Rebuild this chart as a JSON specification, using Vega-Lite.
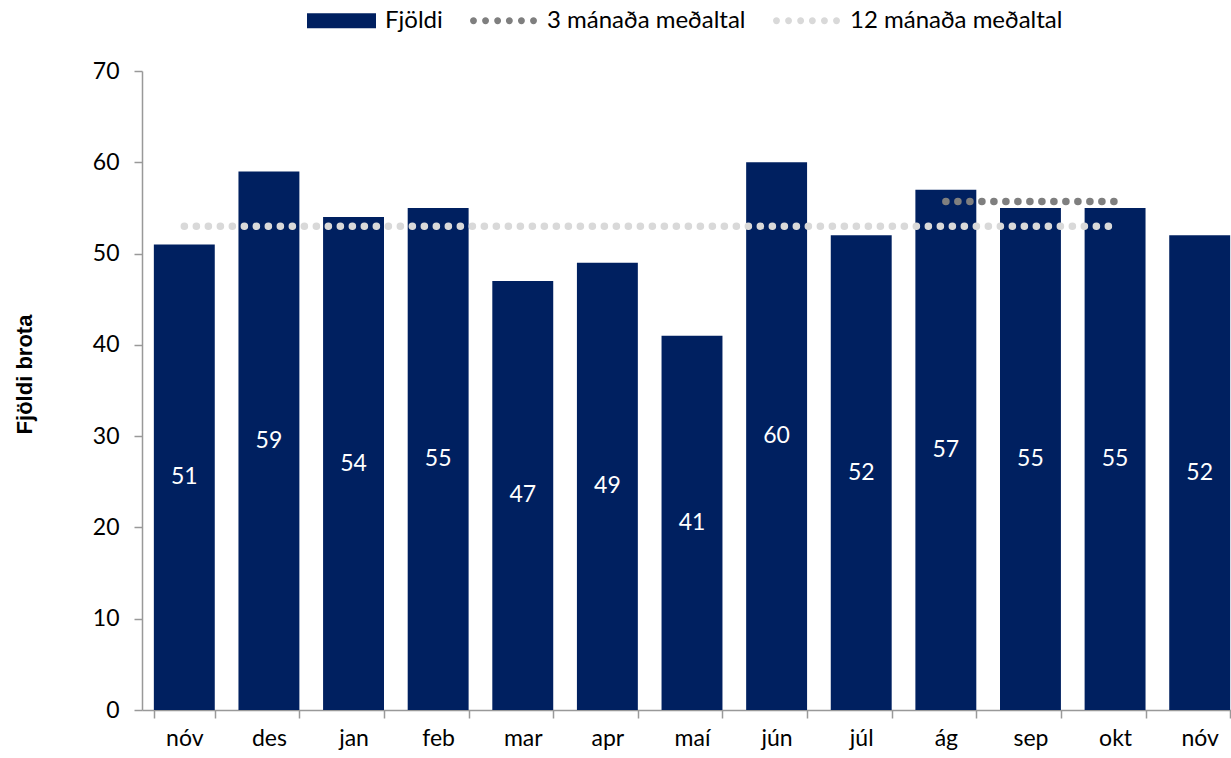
{
  "$schema": "https://vega.github.io/schema/vega-lite/v6.json",
  "width": 1089,
  "height": 639,
  "autosize": {"type": "none"},
  "padding": {"left": 142, "top": 71, "right": 0, "bottom": 48},
  "background": "white",
  "config": {"view": {"stroke": null}, "font": "Lato"},
  "data": {
    "values": [
      {"key": "nóv 23", "fjoldi": 51, "avg3": null, "avg12": 53},
      {"key": "des 23", "fjoldi": 59, "avg3": null, "avg12": 53},
      {"key": "jan 24", "fjoldi": 54, "avg3": null, "avg12": 53},
      {"key": "feb 24", "fjoldi": 55, "avg3": null, "avg12": 53},
      {"key": "mar 24", "fjoldi": 47, "avg3": null, "avg12": 53},
      {"key": "apr 24", "fjoldi": 49, "avg3": null, "avg12": 53},
      {"key": "maí 24", "fjoldi": 41, "avg3": null, "avg12": 53},
      {"key": "jún 24", "fjoldi": 60, "avg3": null, "avg12": 53},
      {"key": "júl 24", "fjoldi": 52, "avg3": null, "avg12": 53},
      {"key": "ág 24", "fjoldi": 57, "avg3": 55.7, "avg12": 53},
      {"key": "sep 24", "fjoldi": 55, "avg3": 55.7, "avg12": 53},
      {"key": "okt 24", "fjoldi": 55, "avg3": 55.7, "avg12": 53},
      {"key": "nóv 24", "fjoldi": 52, "avg3": null, "avg12": null}
    ]
  },
  "resolve": {"scale": {"y": "independent"}},
  "layer": [
    {
      "mark": {"type": "bar", "color": "#002060"},
      "encoding": {
        "x": {
          "field": "key", "type": "ordinal", "sort": null,
          "scale": {"range": [0, 1100], "paddingInner": 0.28, "paddingOuter": 0.14},
          "axis": {
            "title": null, "labelExpr": "split(datum.label, ' ')[0]", "labelAngle": 0,
            "labelFont": "Lato", "labelFontSize": 23, "labelColor": "black",
            "tickBand": "extent", "tickSize": 8, "tickColor": "#999999", "tickWidth": 1.5,
            "domainColor": "#999999", "domainWidth": 1.5,
            "labelBaseline": "alphabetic", "labelPadding": 27, "grid": false
          }
        },
        "y": {
          "field": "fjoldi", "type": "quantitative",
          "scale": {"domain": [0, 70], "nice": false},
          "axis": {
            "values": [0, 10, 20, 30, 40, 50, 60, 70], "grid": false,
            "labelFont": "Lato", "labelFontSize": 23, "labelColor": "black", "labelPadding": 15,
            "tickSize": 8, "tickColor": "#999999", "tickWidth": 1.5,
            "domainColor": "#999999", "domainWidth": 1.5,
            "title": "Fjöldi brota", "titleFont": "Liberation Sans", "titleFontWeight": "bold",
            "titleFontSize": 22, "titleColor": "black", "titleAngle": 270,
            "titleX": -118, "titleY": 303, "titleAlign": "center", "titleBaseline": "middle"
          }
        }
      }
    },
    {
      "mark": {"type": "text", "color": "white", "font": "Lato", "fontSize": 23, "baseline": "middle", "align": "center"},
      "encoding": {
        "x": {"field": "key", "type": "ordinal", "sort": null},
        "y": {"field": "fjoldi", "type": "quantitative", "scale": {"domain": [0, 140], "nice": false}, "axis": null},
        "text": {"field": "fjoldi", "type": "quantitative"}
      }
    },
    {
      "mark": {"type": "line", "color": "#d9d9d9", "strokeWidth": 7.5, "strokeDash": [0.1, 11.9], "strokeCap": "round"},
      "encoding": {
        "x": {"field": "key", "type": "ordinal", "sort": null},
        "y": {"field": "avg12", "type": "quantitative", "scale": {"domain": [0, 70], "nice": false}, "axis": null}
      }
    },
    {
      "mark": {"type": "line", "color": "#7f7f7f", "strokeWidth": 7.5, "strokeDash": [0.1, 11.9], "strokeCap": "round"},
      "encoding": {
        "x": {"field": "key", "type": "ordinal", "sort": null},
        "y": {"field": "avg3", "type": "quantitative", "scale": {"domain": [0, 70], "nice": false}, "axis": null}
      }
    },
    {
      "data": {"values": [{"series": "Fjöldi"}, {"series": "3 mánaða meðaltal"}, {"series": "12 mánaða meðaltal"}]},
      "mark": {"type": "point", "filled": true, "size": 0},
      "encoding": {
        "color": {
          "field": "series", "type": "nominal", "sort": null,
          "scale": {"domain": ["Fjöldi", "3 mánaða meðaltal", "12 mánaða meðaltal"], "range": ["#002060", "#7f7f7f", "#d9d9d9"]},
          "legend": {
            "orient": "none", "legendX": 165, "legendY": -85, "direction": "horizontal", "title": null,
            "symbolSize": 4761, "symbolStrokeWidth": 0, "symbolOpacity": 1,
            "labelFont": "Lato", "labelFontSize": 24, "labelColor": "black", "labelOffset": 9, "labelLimit": 500,
            "columnPadding": 26, "padding": 0
          }
        },
        "shape": {
          "field": "series", "type": "nominal", "sort": null,
          "scale": {
            "domain": ["Fjöldi", "3 mánaða meðaltal", "12 mánaða meðaltal"],
            "range": [
              "M-1,-0.217L1,-0.217L1,0.217L-1,0.217Z",
              "M-0.97,0A0.1,0.1 0 1,0 -0.77,0A0.1,0.1 0 1,0 -0.97,0ZM-0.62,0A0.1,0.1 0 1,0 -0.42,0A0.1,0.1 0 1,0 -0.62,0ZM-0.27,0A0.1,0.1 0 1,0 -0.07,0A0.1,0.1 0 1,0 -0.27,0ZM0.07,0A0.1,0.1 0 1,0 0.27,0A0.1,0.1 0 1,0 0.07,0ZM0.42,0A0.1,0.1 0 1,0 0.62,0A0.1,0.1 0 1,0 0.42,0ZM0.77,0A0.1,0.1 0 1,0 0.97,0A0.1,0.1 0 1,0 0.77,0Z",
              "M-0.97,0A0.1,0.1 0 1,0 -0.77,0A0.1,0.1 0 1,0 -0.97,0ZM-0.62,0A0.1,0.1 0 1,0 -0.42,0A0.1,0.1 0 1,0 -0.62,0ZM-0.27,0A0.1,0.1 0 1,0 -0.07,0A0.1,0.1 0 1,0 -0.27,0ZM0.07,0A0.1,0.1 0 1,0 0.27,0A0.1,0.1 0 1,0 0.07,0ZM0.42,0A0.1,0.1 0 1,0 0.62,0A0.1,0.1 0 1,0 0.42,0ZM0.77,0A0.1,0.1 0 1,0 0.97,0A0.1,0.1 0 1,0 0.77,0Z"
            ]
          },
          "legend": {
            "orient": "none", "legendX": 165, "legendY": -85, "direction": "horizontal", "title": null,
            "symbolSize": 4761, "symbolStrokeWidth": 0, "symbolOpacity": 1,
            "labelFont": "Lato", "labelFontSize": 24, "labelColor": "black", "labelOffset": 9, "labelLimit": 500,
            "columnPadding": 26, "padding": 0
          }
        }
      }
    }
  ]
}
